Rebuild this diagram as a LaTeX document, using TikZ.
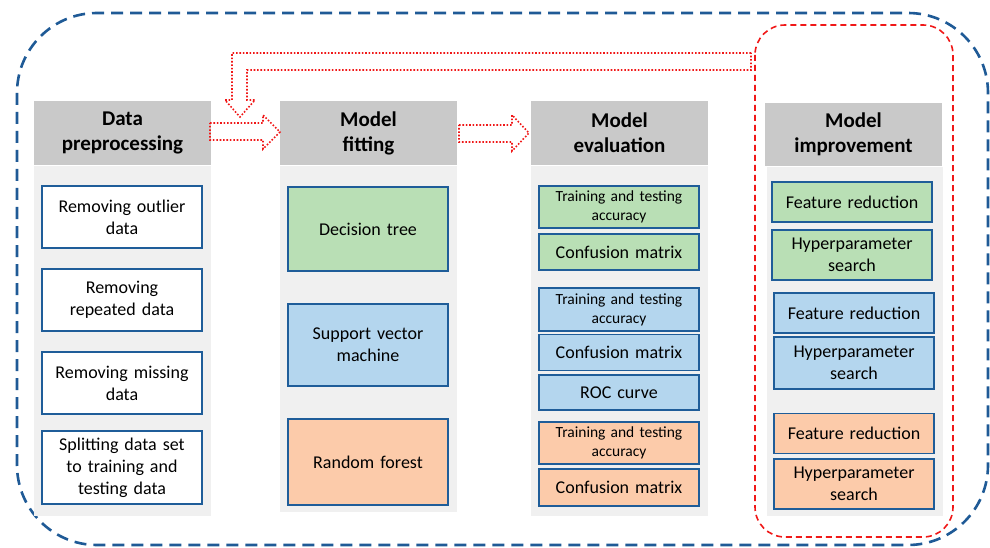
\documentclass[tikz,border=0pt]{standalone}
\usepackage{fontspec}
\setmainfont{Carlito}
\definecolor{hdrgray}{HTML}{C9C9C9}
\definecolor{bodygray}{HTML}{F0F0F0}
\definecolor{boxblue}{HTML}{1F5D99}
\definecolor{outerblue}{HTML}{1F5A96}
\definecolor{gfill}{HTML}{B9DFB5}
\definecolor{bfill}{HTML}{B4D6EE}
\definecolor{ofill}{HTML}{FCCBAA}
\definecolor{redline}{HTML}{F01818}
\begin{document}
\begin{tikzpicture}[x=1pt,y=-1pt,
  hdr/.style={fill=hdrgray, minimum width=177pt, minimum height=64pt, inner sep=0pt, align=center, font=\fontsize{21}{25}\selectfont\bfseries},
  colbody/.style={fill=bodygray, inner sep=0pt, minimum width=177pt},
  box/.style={draw=boxblue, line width=1.8pt, inner sep=0pt, align=center, minimum width=160pt, text width=152pt, font=\fontsize{18}{22}\selectfont},
  sbox/.style={box, font=\fontsize{15.5}{19}\selectfont},
  gbox/.style={fill=gfill}, bbox/.style={fill=bfill}, obox/.style={fill=ofill}, wbox/.style={fill=white},
  blockarrow/.style={draw=redline, line width=1.6pt, dash pattern=on 1.6pt off 1.8pt, line join=miter},
]
\useasboundingbox (0,0) rectangle (990,548);

% outer frames
\draw[outerblue, line width=2.6pt, dash pattern=on 12pt off 7pt, rounded corners=80pt] (17,13) rectangle (988,545);
\draw[redline, line width=1.6pt, dash pattern=on 6pt off 4pt, rounded corners=30pt] (755,25) rectangle (953,537);

% column bodies
\node[colbody, minimum height=350pt] (body1) at (122.5,341) {};
\node[colbody, minimum height=346pt] (body2) at (368.5,339) {};
\node[colbody, minimum height=350pt] (body3) at (619.5,341) {};
\node[colbody, minimum height=349pt, minimum width=176pt] (body4) at (855,341.5) {};

% headers
\node[hdr] (h1) at (122.5,133) {Data\\preprocessing};
\node[hdr] (h2) at (368.5,133) {Model\\fitting};
\node[hdr] (h3) at (619.5,133) {Model\\evaluation};
\node[hdr, minimum height=63pt] (h4) at (853.5,134.5) {Model\\improvement};

% column 1
\node[box, wbox, minimum height=62pt] (p1) at (122,217) {Removing outlier\\data};
\node[box, wbox, minimum height=62pt] (p2) at (122,300) {Removing\\repeated data};
\node[box, wbox, minimum height=62pt] (p3) at (122,383) {Removing missing\\data};
\node[box, wbox, minimum height=73pt] (p4) at (122,467.5) {Splitting data set\\to training and\\testing data};

% column 2
\node[box, gbox, minimum height=84pt] (f1) at (368,229) {Decision tree};
\node[box, bbox, minimum height=82pt] (f2) at (368,345) {Support vector\\machine};
\node[box, obox, minimum height=86pt] (f3) at (368,462) {Random forest};

% column 3
\node[sbox, gbox, minimum height=42pt] (e1) at (619,207) {Training and testing\\accuracy};
\node[box, gbox, minimum height=36pt] (e2) at (619,252) {Confusion matrix};
\node[sbox, bbox, minimum height=43pt] (e3) at (619,309.5) {Training and testing\\accuracy};
\node[box, bbox, minimum height=36pt] (e4) at (619,352.5) {Confusion matrix};
\node[box, bbox, minimum height=35pt] (e5) at (619,392.5) {ROC curve};
\node[sbox, obox, minimum height=42pt] (e6) at (619,443) {Training and testing\\accuracy};
\node[box, obox, minimum height=37pt] (e7) at (619,487.5) {Confusion matrix};

% column 4
\node[box, gbox, minimum height=40pt] (m1) at (852,202) {Feature reduction};
\node[box, gbox, minimum height=50pt] (m2) at (852,255) {Hyperparameter\\search};
\node[box, bbox, minimum height=40pt] (m3) at (854,313) {Feature reduction};
\node[box, bbox, minimum height=52pt] (m4) at (854,363) {Hyperparameter\\search};
\node[box, obox, minimum height=40pt] (m5) at (854,433.5) {Feature reduction};
\node[box, obox, minimum height=50pt] (m6) at (854,484) {Hyperparameter\\search};

% block arrows
\draw[blockarrow] (210,123) -- (263,123) -- (263,115) -- (280,132) -- (263,149) -- (263,140) -- (210,140) -- cycle;
\draw[blockarrow] (459,125) -- (512,125) -- (512,115) -- (529,133) -- (512,151) -- (512,142) -- (459,142) -- cycle;
\draw[blockarrow] (751,53) -- (232,53) -- (232,100) -- (225,100) -- (240,117) -- (255,100) -- (247,100) -- (247,70) -- (751,70) -- cycle;
\end{tikzpicture}
\end{document}
